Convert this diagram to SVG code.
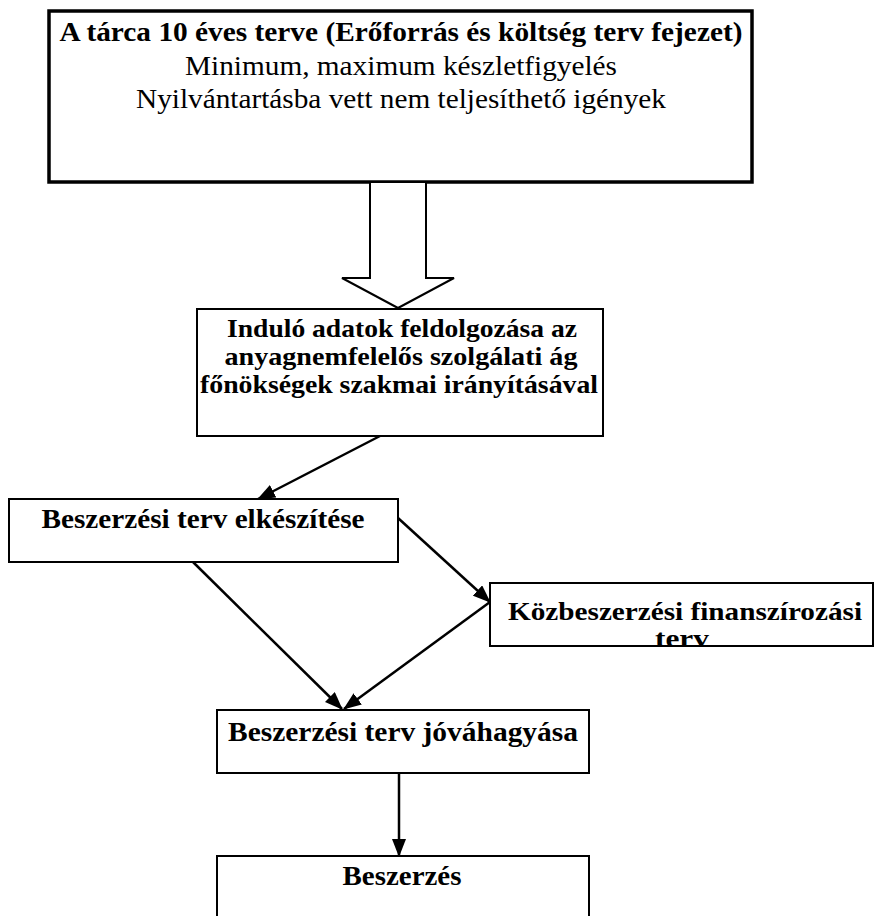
<svg xmlns="http://www.w3.org/2000/svg" width="874" height="916" viewBox="0 0 874 916">
<style>
text{fill:#000;text-anchor:middle}
.b{font-weight:bold;font-size:26px}
.r{font-size:28px}
.t{font-weight:bold;font-size:28px}
.box{fill:#fff;stroke:#000;stroke-width:2}
.con{stroke:#000;stroke-width:2.5;fill:none;marker-end:url(#ah)}
</style>
<defs>
<marker id="ah" markerUnits="userSpaceOnUse" markerWidth="18" markerHeight="14" refX="17" refY="7" orient="auto">
<path d="M0,0 L18,7 L0,14 z" fill="#000"/>
</marker>
</defs>
<rect width="874" height="916" fill="#fff"/>
<g font-family="'Liberation Serif', 'Times New Roman', serif">
<g id="n1">
<rect class="box" x="49" y="11" width="703" height="171" style="stroke-width:3.5"/>
<text class="t" x="401" y="41" textLength="683" lengthAdjust="spacingAndGlyphs">A tárca 10 éves terve (Erőforrás és költség terv fejezet)</text>
<text class="r" x="401" y="75" textLength="432" lengthAdjust="spacingAndGlyphs">Minimum, maximum készletfigyelés</text>
<text class="r" x="401" y="108" textLength="530" lengthAdjust="spacingAndGlyphs">Nyilvántartásba vett nem teljesíthető igények</text>
</g>
<g id="n2">
<rect class="box" x="197" y="309" width="406" height="127"/>
<text class="b" x="402" y="337" textLength="350" lengthAdjust="spacingAndGlyphs">Induló adatok feldolgozása az</text>
<text class="b" x="401" y="365" textLength="353" lengthAdjust="spacingAndGlyphs">anyagnemfelelős szolgálati ág</text>
<text class="b" x="399" y="393" textLength="398" lengthAdjust="spacingAndGlyphs">főnökségek szakmai irányításával</text>
</g>
<g id="n3">
<rect class="box" x="9" y="499" width="389" height="63"/>
<text class="t" x="203" y="528" textLength="323" lengthAdjust="spacingAndGlyphs">Beszerzési terv elkészítése</text>
</g>
<g id="n4">
<rect class="box" x="490" y="583" width="383" height="63"/>
<text class="b" x="685" y="620" textLength="354" lengthAdjust="spacingAndGlyphs">Közbeszerzési finanszírozási</text>
<text class="b" x="682" y="647" textLength="54" lengthAdjust="spacingAndGlyphs">terv</text>
</g>
<g id="n5">
<rect class="box" x="217" y="710" width="372" height="63"/>
<text class="t" x="403" y="741" textLength="350" lengthAdjust="spacingAndGlyphs">Beszerzési terv jóváhagyása</text>
</g>
<g id="n6">
<rect class="box" x="217" y="856" width="372" height="70"/>
<text class="t" x="402" y="885" textLength="119" lengthAdjust="spacingAndGlyphs">Beszerzés</text>
</g>
</g>
<g id="connectors">
<polygon points="370,182 370,278 342,278 398,308 454,278 426,278 426,182" fill="#fff" stroke="#000" stroke-width="2"/>
<line class="con" x1="380" y1="436" x2="258" y2="499"/>
<line class="con" x1="398" y1="518" x2="490" y2="602"/>
<line class="con" x1="193" y1="562" x2="342" y2="709"/>
<line class="con" x1="490" y1="602" x2="344" y2="709"/>
<line class="con" x1="399" y1="773" x2="399" y2="856"/>
</g>
</svg>
